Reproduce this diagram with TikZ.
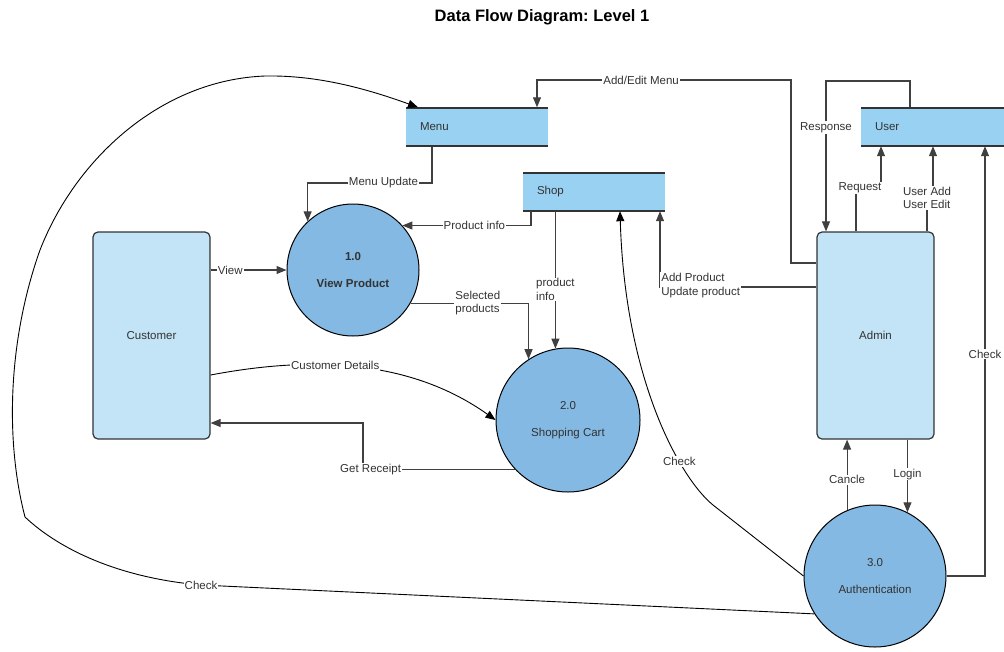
\documentclass[tikz,border=0pt]{standalone}
\usepackage{fontspec}
\setmainfont{Liberation Sans}
\usetikzlibrary{arrows.meta}
\definecolor{storefill}{RGB}{153,209,242}
\definecolor{entfill}{RGB}{194,228,246}
\definecolor{procfill}{RGB}{131,185,227}
\definecolor{ink}{RGB}{51,51,51}
\definecolor{edgecol}{RGB}{64,64,64}
\frenchspacing
\begin{document}
\begin{tikzpicture}[x=1pt,y=-1pt,
  every node/.style={font=\fontsize{11.5}{13.5}\selectfont, text=ink},
  store/.style={fill=storefill, minimum height=39pt, inner xsep=14pt, align=left,
    path picture={\draw[ink, line width=3pt] (path picture bounding box.north west) -- (path picture bounding box.north east)
      (path picture bounding box.south west) -- (path picture bounding box.south east);}},
  entity/.style={draw=ink, fill=entfill, rounded corners=5pt, line width=1.2pt, minimum width=117pt, minimum height=207pt},
  proc/.style={circle, draw=black, fill=procfill, line width=1pt, align=center, inner sep=0pt},
  arr/.style={draw=edgecol, line width=1.1pt, -{Triangle[length=10pt,width=8pt]}},
  curvearr/.style={draw=black, line width=0.9pt, -{Triangle[length=10pt,width=8pt]}},
  lbl/.style={fill=white, inner sep=1pt, align=left}
]
\useasboundingbox (0,0) rectangle (1004,651);
\node[font=\bfseries\fontsize{16.5}{19}\selectfont, text=black] (title) at (542,17) {Data Flow Diagram: Level 1};

\node[store, minimum width=142pt, text width=114pt] (menu) at (477,127) {Menu};
\node[store, minimum width=142pt, text width=114pt] (shop) at (594,191.5) {Shop};
\node[store, minimum width=143pt, text width=115pt] (user) at (932.5,126.5) {User};
\node[entity] (customer) at (151.5,335.5) {Customer};
\node[entity] (admin) at (875.5,335.5) {Admin};
\node[proc, minimum size=132pt, font=\bfseries\fontsize{11.5}{13.5}\selectfont] (p1) at (353,270) {1.0\\[13pt]View Product};
\node[proc, minimum size=144pt] (p2) at (568,420) {2.0\\[13pt]Shopping Cart};
\node[proc, minimum size=142pt] (p3) at (875,576) {3.0\\[13pt]Authentication};

\draw[arr] (customer.east |- p1.west) -- node[lbl,pos=0.26]{View} (p1.west);
\draw[arr] (menu.south -| 432,0) -- (432,183) -- node[lbl,pos=0.39]{Menu Update} (p1.133 |- 0,183) -- (p1.133);
\draw[arr] (shop.south -| 531,0) |- node[lbl,pos=0.72]{Product info} (p1.42);
\draw[arr] (p2.100 |- shop.south) -- node[lbl,pos=0.57]{product\\info} (p2.100);
\draw[arr] (p1.-30) -| node[lbl,pos=0.285]{Selected\\products} (p2.123);
\draw[curvearr] (customer.east |- 0,375) .. controls (290,360) and (400,352) .. node[lbl,pos=0.46]{Customer Details} (p2.west);
\draw[arr] (p2.223) -| node[lbl,pos=0.475]{Get Receipt} (363,423) -- (customer.east |- 0,423);
\draw[arr] (admin.west |- 0,263) -- (791,263) -- (791,80) -- node[lbl,pos=0.59]{Add/Edit Menu} (537,80) -- (menu.north -| 537,0);
\draw[arr] (admin.west |- 0,287) -| node[lbl,pos=0.37,yshift=1.5pt]{Add Product\\Update product} (shop.south -| 660,0);
\draw[arr] (user.north -| 910,0) -- (910,81) -- (826,81) -- node[lbl,pos=0.31]{Response} (admin.north -| 826,0);
\draw[arr] (admin.north -| 856,0) -- (856,188) -- node[lbl,pos=0.16]{Request} (881,188) -- (user.south -| 881,0);
\draw[arr] (admin.north -| 927,0) -- (927,198) -- node[lbl,pos=0]{User Add\\User Edit} (933,198) -- (user.south -| 933,0);
\draw[arr] (p3.east) -| node[lbl,pos=0.758]{Check} (user.south -| 985,0);
\draw[arr] (admin.south -| p3.63) -- node[lbl,pos=0.475]{Login} (p3.63);
\draw[arr] (p3.113) -- node[lbl,pos=0.43]{Cancle} (admin.south -| p3.113);
\draw[curvearr] (p3.west) -- (713,505) .. controls (680,478) and (625,380) .. node[lbl,pos=0.3]{Check} (shop.south -| 620,0);
\draw[curvearr] (p3.212) -- (201,585) node[lbl]{Check} .. controls (120,578) and (60,550) .. (25,517)
  .. controls (5,440) and (8,340) .. (40,250) .. controls (75,160) and (160,80) .. (265,76)
  .. controls (320,75) and (370,90) .. (menu.north west -| 418,0);
\end{tikzpicture}
\end{document}
